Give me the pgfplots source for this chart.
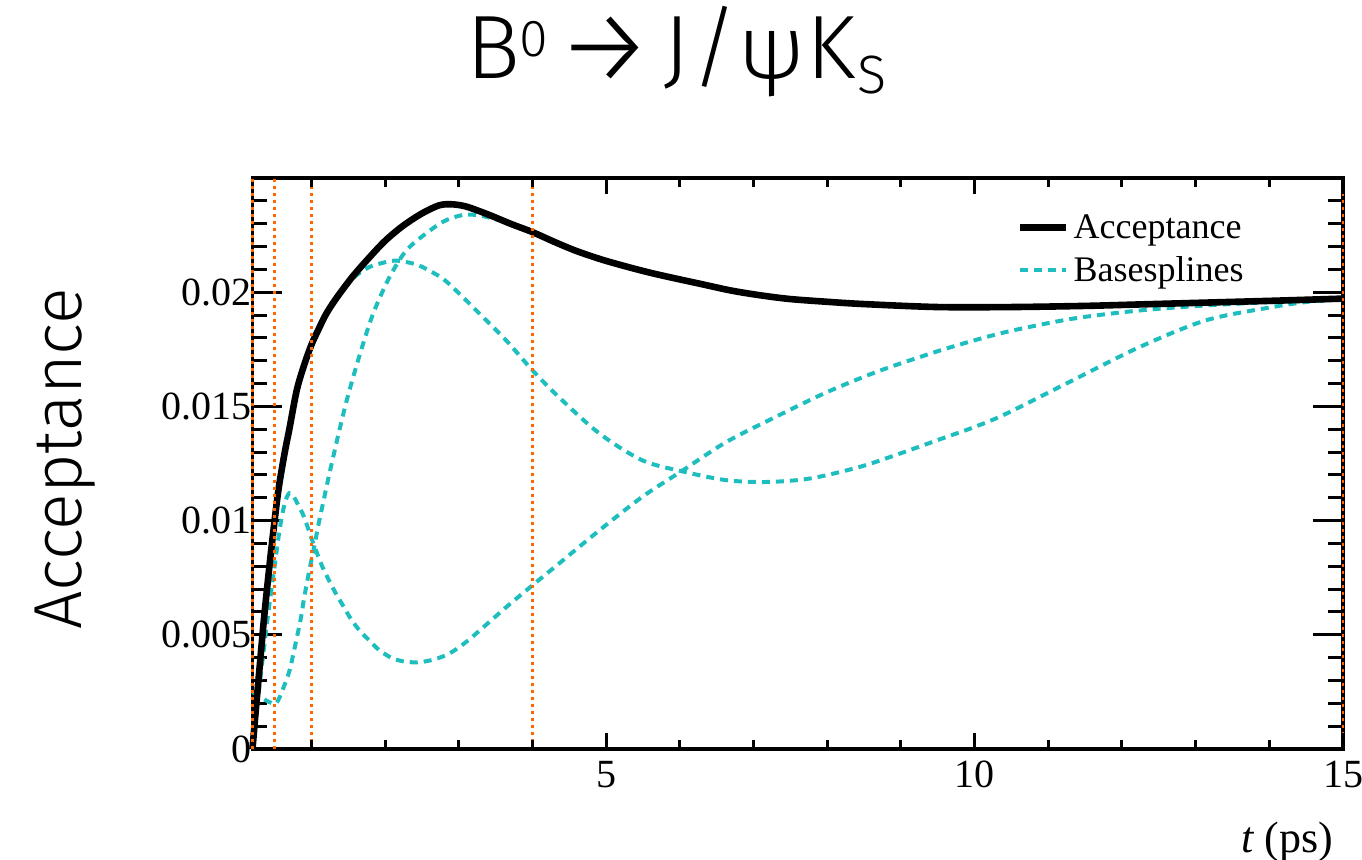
\documentclass[border=0pt]{standalone}
\usepackage{fontspec}
\usepackage{graphicx}
\setmainfont{Liberation Serif}
\newfontfamily\lightsans{Fira Sans Light}
\usepackage{pgfplots}
\pgfplotsset{compat=1.18}
\definecolor{knot}{RGB}{255,102,0}
\definecolor{spl}{RGB}{30,190,190}

\newcommand{\gl}[2]{\rlap{\hspace*{#1}\makebox[0pt][c]{#2}}}
\newcommand{\ttl}{\makebox[0pt][l]{%
\gl{-92.08pt}{B}%
\gl{-71.65pt}{\raisebox{11pt}{\fontsize{26}{26}\selectfont 0}}%
\gl{-36.25pt}{\raisebox{-2.5pt}{\scalebox{1.2}{→}}}%
\gl{-0.5pt}{J}%
\gl{18.93pt}{/}%
\gl{47.1pt}{ψ}%
\gl{77pt}{K}%
\gl{97.5pt}{\raisebox{-7.5pt}{\fontsize{27}{27}\selectfont S}}%
}}

\begin{document}
\begin{tikzpicture}
\path[use as bounding box] (-126.25pt,-55pt) rectangle (554.75pt,374.5pt);
\begin{axis}[
  at={(0,0)}, anchor=south west,
  scale only axis, width=545.25pt, height=285.5pt,
  xmin=0.2, xmax=15, ymin=0, ymax=0.025,
  clip=false,
  axis line style={line width=1.8pt},
  xtick=\empty,
  ytick={0,0.005,0.01,0.015,0.02},
  yticklabels={0,0.005,0.01,0.015,0.02},
  minor ytick={0.001,0.002,0.003,0.004,0.006,0.007,0.008,0.009,0.011,0.012,0.013,0.014,0.016,0.017,0.018,0.019,0.021,0.022,0.023,0.024},
  scaled y ticks=false,
  tick align=inside,
  ytick pos=both, yticklabel pos=left,
  major tick length=15pt, minor tick length=7.5pt,
  every tick/.style={black, line width=1.5pt},
  yticklabel style={font=\fontsize{20}{20}\selectfont, xshift=3pt},
  ylabel={\lightsans Acceptance},
  ylabel style={at={(axis description cs:-0.15635,0.508)}, anchor=base, font=\fontsize{34}{34}\selectfont},
  title={\lightsans\ttl},
  title style={at={(axis description cs:0.38973,1.1541)}, anchor=base, font=\fontsize{45}{45}\selectfont, inner sep=0pt},
  legend style={at={(axis description cs:0.7008,1)}, anchor=north west, yshift=-16pt, draw=none, fill=none, inner sep=0pt, font=\fontsize{18}{18}\selectfont, row sep=3.5pt},
  legend cell align=left,
  legend image code/.code={\draw[#1] (0pt,0pt) -- (23pt,0pt);},
]
% base splines
\addplot[spl, line width=2pt, dash pattern=on 4pt off 3pt, smooth, forget plot] coordinates {
(0.2,0) (0.3,0.0029) (0.4,0.0056) (0.5,0.0080) (0.55,0.0092) (0.6,0.0102) (0.65,0.0109) (0.7,0.0112) (0.75,0.0111) (0.81,0.01075) (0.9,0.01016) (1.01,0.00914) (1.15,0.00797) (1.26,0.00725) (1.35,0.0067) (1.44,0.00622) (1.53,0.00572) (1.65,0.0052) (1.78,0.00477) (1.92,0.00433) (2.1,0.00397) (2.28,0.00382) (2.46,0.0038) (2.64,0.0039) (2.82,0.0041) (2.98,0.0044) (3.18,0.0049) (3.64,0.0062) (4.0,0.00717) (4.36,0.00812) (4.91,0.00958) (5.49,0.01104) (6.04,0.0122) (6.63,0.01344) (7.3,0.01454) (7.98,0.0156) (8.66,0.0165) (9.34,0.01725) (9.79,0.0177) (10.43,0.01826) (11.33,0.01884) (12.24,0.0192) (13.14,0.01942) (14.04,0.01957) (15,0.01967)
};
\addplot[spl, line width=2pt, dash pattern=on 4pt off 3pt, smooth, forget plot] coordinates {
(0.2,0.0025) (0.3,0.0023) (0.4,0.0021) (0.52,0.0020) (0.61,0.0026) (0.7,0.0034) (0.75,0.0041) (0.79,0.0047) (0.855,0.0057) (0.9,0.0066) (0.97,0.0078) (1.04,0.0089) (1.1,0.0099) (1.16,0.0108) (1.24,0.0120) (1.375,0.0139) (1.49,0.0154) (1.65,0.0172) (1.83,0.0190) (2.05,0.0206) (2.28,0.0218) (2.55,0.02256) (2.82,0.02314) (3.1,0.0234) (3.37,0.0233) (3.7,0.0230) (4.0,0.02263) (4.3,0.0222) (4.6,0.0218) (5.0,0.02137) (5.6,0.02085) (6.3,0.02035) (6.7,0.02007) (7.1,0.01986) (7.5,0.0197) (8.0,0.01958) (8.5,0.01948) (9.5,0.01935) (10.5,0.01935) (11.5,0.0194) (12.3,0.01947) (13.2,0.01955) (14.1,0.01963) (15,0.01972)
};
\addplot[spl, line width=2pt, dash pattern=on 4pt off 3pt, smooth, forget plot] coordinates {
(0.2,0) (0.25,0.0019) (0.3,0.0037) (0.35,0.0055) (0.4,0.0071) (0.45,0.0086) (0.5,0.0100) (0.55,0.0113) (0.6,0.0123) (0.65,0.0132) (0.7,0.0140) (0.8,0.0157) (0.9,0.0168) (1.0,0.0177) (1.1,0.0184) (1.2,0.01905) (1.333,0.0197) (1.556,0.02059) (1.783,0.0211) (2.01,0.02132) (2.12,0.02138) (2.235,0.02135) (2.46,0.02117) (2.78,0.0206) (3.05,0.0198) (3.3,0.0190) (3.64,0.0179) (4.0,0.01658) (4.36,0.0154) (4.91,0.01381) (5.49,0.01264) (6.04,0.01215) (6.63,0.01177) (7.17,0.01169) (7.76,0.01184) (8.44,0.01235) (9.0,0.01295) (9.52,0.01355) (10.0,0.0141) (10.43,0.01468) (11.33,0.01614) (12.24,0.0176) (13.14,0.01877) (14.04,0.01935) (14.5,0.01957) (15,0.01972)
};
% acceptance
\addplot[black, line width=3.3pt, smooth, line join=round, forget plot] coordinates {
(0.2,0) (0.25,0.0019) (0.3,0.0037) (0.35,0.0055) (0.4,0.0071) (0.45,0.0086) (0.5,0.0100) (0.55,0.0113) (0.6,0.0123) (0.65,0.0132) (0.7,0.0140) (0.8,0.0157) (0.9,0.0168) (1.0,0.0177) (1.1,0.0184) (1.2,0.01905) (1.33,0.0197) (1.55,0.02065) (1.78,0.0215) (2.0,0.02225) (2.24,0.0229) (2.5,0.02345) (2.73,0.0238) (2.9,0.02385) (3.1,0.02375) (3.4,0.0234) (3.7,0.0230) (4.0,0.02263) (4.3,0.0222) (4.6,0.0218) (5.0,0.02137) (5.6,0.02085) (6.3,0.02035) (6.7,0.02007) (7.1,0.01986) (7.5,0.0197) (8.0,0.01958) (8.5,0.01948) (9.5,0.01935) (10.5,0.01935) (11.5,0.0194) (12.3,0.01947) (13.2,0.01955) (14.1,0.01963) (15,0.01972)
};
% knots
\addplot[knot, line width=1.3pt, dash pattern=on 1.5pt off 2pt, forget plot] coordinates {(0.2,0) (0.2,0.025)};
\addplot[knot, line width=1.3pt, dash pattern=on 1.5pt off 2pt, forget plot] coordinates {(0.5,0) (0.5,0.025)};
\addplot[knot, line width=1.3pt, dash pattern=on 1.5pt off 2pt, forget plot] coordinates {(1,0) (1,0.025)};
\addplot[knot, line width=1.3pt, dash pattern=on 1.5pt off 2pt, forget plot] coordinates {(4,0) (4,0.025)};
\addplot[knot, line width=1.3pt, dash pattern=on 1.5pt off 2pt, forget plot] coordinates {(15,0) (15,0.025)};
\addlegendimage{black, line width=3.3pt}
\addlegendentry{Acceptance}
\addlegendimage{spl, line width=2pt, dash pattern=on 4pt off 3pt}
\addlegendentry{Basesplines}
\end{axis}
\begin{axis}[
  at={(0,0)}, anchor=south west,
  scale only axis, width=545.25pt, height=285.5pt,
  xmin=0.2, xmax=15, ymin=0, ymax=0.025,
  axis line style={draw=none},
  ytick=\empty,
  xtick={5,10,15}, xticklabels={5,10,15},
  minor xtick={1,2,3,4,6,7,8,9,11,12,13,14},
  tick align=inside, xtick pos=both, xticklabel pos=bottom,
  major tick length=8pt, minor tick length=4.5pt,
  every tick/.style={black, line width=1.5pt},
  xticklabel style={font=\fontsize{20}{20}\selectfont, yshift=-2.5pt},
  xlabel={{\itshape t} (ps)},
  xlabel style={at={(axis description cs:0.9972,-0.1734)}, anchor=base east, yshift=-2pt, font=\fontsize{22}{22}\selectfont},
]
\end{axis}
\end{tikzpicture}
\end{document}
